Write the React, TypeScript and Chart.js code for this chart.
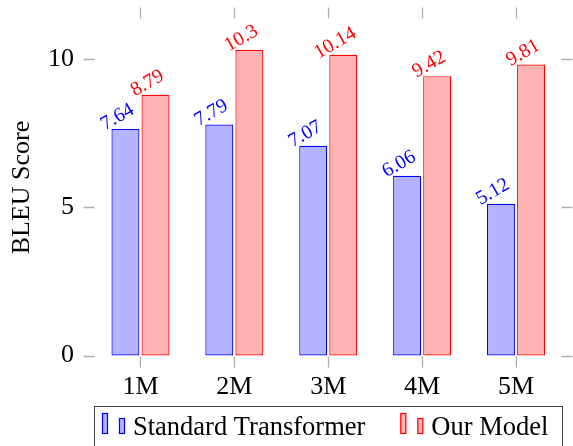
import { useEffect, useRef } from 'react';
import { Chart, registerables } from 'chart.js';

Chart.register(...registerables);

const categories = ['1M', '2M', '3M', '4M', '5M'];
const categoryPositions = [0, 1, 2, 3, 4];
const standardScores = [7.64, 7.79, 7.07, 6.06, 5.12];
const ourScores = [8.79, 10.3, 10.14, 9.42, 9.81];
const yTickValues = [0, 5, 10];
const seriesNames = ['Standard Transformer', 'Our Model'];
const yAxisTitle = 'BLEU Score';

const FONT_FAMILY = '"Liberation Serif", "Times New Roman", serif';
const TICK_GREY = '#b0b0b0';

const tickMarksPlugin = {
  id: 'pgfTickMarks',
  afterDraw(chart: any) {
    const { ctx, chartArea } = chart;
    const xs = chart.scales.x;
    const ys = chart.scales.y;
    const half = 5.5;
    ctx.save();
    ctx.strokeStyle = TICK_GREY;
    ctx.lineWidth = 1.3;
    ctx.beginPath();
    ys.ticks.forEach((t: any) => {
      const py = Math.round(ys.getPixelForValue(t.value)) + 0.5;
      ctx.moveTo(chartArea.left - half, py);
      ctx.lineTo(chartArea.left + half, py);
      ctx.moveTo(chartArea.right - half, py);
      ctx.lineTo(chartArea.right + half, py);
    });
    xs.ticks.forEach((t: any) => {
      const px = Math.round(xs.getPixelForValue(t.value)) + 0.5;
      ctx.moveTo(px, chartArea.bottom - half);
      ctx.lineTo(px, chartArea.bottom + half);
      ctx.moveTo(px, chartArea.top - half);
      ctx.lineTo(px, chartArea.top + half);
    });
    ctx.stroke();
    ctx.restore();
  },
};

const valueLabelsPlugin = {
  id: 'valueLabels',
  afterDatasetsDraw(chart: any) {
    const { ctx } = chart;
    ctx.save();
    ctx.font = `20px ${FONT_FAMILY}`;
    ctx.textAlign = 'center';
    ctx.textBaseline = 'bottom';
    chart.data.datasets.forEach((ds: any, di: number) => {
      const meta = chart.getDatasetMeta(di);
      meta.data.forEach((el: any, i: number) => {
        const v = ds.data[i].y;
        ctx.save();
        ctx.translate(el.x - 3, el.y - 3);
        ctx.rotate((-30 * Math.PI) / 180);
        ctx.fillStyle = ds.borderColor;
        ctx.fillText(String(v), 0, 0);
        ctx.restore();
      });
    });
    ctx.restore();
  },
};

const boxLegendPlugin = {
  id: 'boxLegend',
  afterDraw(chart: any) {
    const { ctx } = chart;
    ctx.save();
    ctx.strokeStyle = '#404040';
    ctx.lineWidth = 1;
    ctx.strokeRect(94.5, 406.5, 468, 60);
    ctx.font = `26.5px ${FONT_FAMILY}`;
    ctx.textBaseline = 'alphabetic';
    ctx.textAlign = 'left';
    let x = 102;
    chart.data.datasets.forEach((ds: any) => {
      ctx.fillStyle = ds.backgroundColor;
      ctx.strokeStyle = ds.borderColor;
      ctx.lineWidth = 1.2;
      ctx.fillRect(x, 413, 6, 21);
      ctx.strokeRect(x + 0.5, 413.5, 5, 20);
      ctx.fillRect(x + 17, 418, 6, 16);
      ctx.strokeRect(x + 17.5, 418.5, 5, 15);
      ctx.fillStyle = '#000';
      ctx.fillText(ds.label, x + 31, 435);
      x += 31 + ctx.measureText(ds.label).width + 35;
    });
    ctx.restore();
  },
};

export default function App() {
  const canvasRef = useRef<HTMLCanvasElement | null>(null);

  useEffect(() => {
    document.body.style.margin = '0';
    const canvas = canvasRef.current;
    if (!canvas) return;
    const font = { family: FONT_FAMILY, size: 26 };
    const barCommon = {
      borderWidth: 1.2,
      borderSkipped: false,
      categoryPercentage: 0.64,
      barPercentage: 0.93,
    };
    const chart = new Chart(canvas, {
      type: 'bar',
      data: {
        datasets: [
          {
            label: seriesNames[0],
            data: standardScores.map((v, i) => ({ x: categoryPositions[i], y: v })),
            backgroundColor: 'rgb(179,179,255)',
            borderColor: 'rgb(0,0,255)',
            ...barCommon,
          },
          {
            label: seriesNames[1],
            data: ourScores.map((v, i) => ({ x: categoryPositions[i], y: v })),
            backgroundColor: 'rgb(255,179,179)',
            borderColor: 'rgb(255,0,0)',
            ...barCommon,
          },
        ],
      } as any,
      options: {
        animation: false,
        responsive: false,
        devicePixelRatio: 1,
        layout: { padding: { top: 13, right: 6, left: 0, bottom: 0 } },
        plugins: { legend: { display: false }, tooltip: { enabled: false } },
        scales: {
          x: {
            type: 'linear',
            offset: false,
            min: -0.548,
            max: 4.543,
            afterBuildTicks: (s: any) => {
              s.ticks = categoryPositions.map((v) => ({ value: v }));
            },
            afterFit: (s: any) => {
              s.height = 84;
              s.paddingLeft = 0;
              s.paddingRight = 0;
            },
            grid: { display: false, drawTicks: false },
            border: { display: false },
            ticks: {
              font,
              color: '#000',
              padding: 10,
              maxRotation: 0,
              autoSkip: false,
              callback: (v: any) => categories[Math.round(Number(v))],
            },
          },
          y: {
            min: -0.219,
            max: 11.55,
            afterBuildTicks: (s: any) => {
              s.ticks = yTickValues.map((v) => ({ value: v }));
            },
            afterFit: (s: any) => {
              s.width = 89;
              s.paddingTop = 0;
              s.paddingBottom = 0;
            },
            grid: { display: false, drawTicks: false },
            border: { display: false },
            ticks: { font, color: '#000', padding: 15 },
            title: {
              display: true,
              text: yAxisTitle,
              font,
              color: '#000',
              padding: { top: 7, bottom: 0 },
            },
          },
        },
      } as any,
      plugins: [tickMarksPlugin, valueLabelsPlugin, boxLegendPlugin],
    });
    return () => chart.destroy();
  }, []);

  return (
    <div style={{ position: 'absolute', left: 0, top: 0, width: 573, height: 446 }}>
      <canvas ref={canvasRef} width={573} height={446} />
    </div>
  );
}
